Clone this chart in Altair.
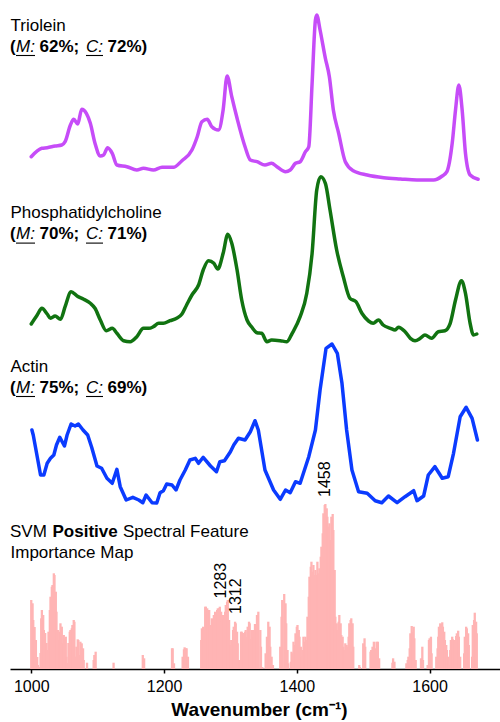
import altair as alt
import pandas as pd

FONT = "Liberation Sans, Arial, Helvetica, sans-serif"

# ---------------- data ----------------
tri_wn = [1000, 1016, 1024, 1036, 1046, 1051, 1059, 1064, 1070, 1076, 1083, 1089, 1096, 1104, 1109,
          1115, 1122, 1129, 1144, 1159, 1169, 1184, 1197, 1214, 1227, 1242, 1250, 1257, 1265, 1272,
          1282, 1289, 1295, 1302, 1310, 1322, 1330, 1340, 1352, 1362, 1370, 1383, 1390, 1398, 1405,
          1413, 1418, 1423, 1428, 1430, 1435, 1443, 1449, 1455, 1463, 1473, 1485, 1506, 1531, 1556,
          1581, 1606, 1619, 1626, 1634, 1639, 1644, 1649, 1654, 1661, 1673]
tri_int = [23.3, 31.7, 32.3, 34, 35, 38.3, 55, 60.7, 56, 70.7, 66.7, 56.7, 36.7, 24, 25,
           32.3, 26.7, 15, 13.3, 10, 11.7, 10, 12.7, 12.7, 19.3, 30, 43.3, 58.3, 60.7, 53.3,
           50, 70, 104, 83.3, 61.7, 33.3, 20, 18.3, 15, 16.7, 13.3, 8.3, 10, 16.7, 18.3,
           28.3, 33.3, 96.7, 160, 165, 150, 121.7, 103.3, 70, 46.7, 18.3, 9.3, 5, 2.3, 1,
           0, 0, 4, 8.3, 36.7, 70, 95, 70, 26.7, 5, 0.7]

pc_wn = [1000, 1009, 1016, 1024, 1029, 1036, 1044, 1051, 1060, 1069, 1079, 1089, 1096, 1104, 1113,
         1122, 1129, 1139, 1149, 1159, 1169, 1177, 1184, 1192, 1199, 1209, 1219, 1227, 1234, 1242,
         1252, 1259, 1267, 1275, 1281, 1289, 1296, 1302, 1310, 1317, 1325, 1332, 1340, 1347, 1355,
         1362, 1375, 1385, 1393, 1405, 1415, 1423, 1430, 1436, 1443, 1450, 1460, 1470, 1480, 1489,
         1498, 1508, 1515, 1523, 1530, 1541, 1548, 1553, 1563, 1571, 1578, 1586, 1593, 1603, 1613,
         1623, 1631, 1639, 1648, 1654, 1661, 1666, 1671]
pc_int = [18, 27, 33.7, 28, 23.7, 26, 22.7, 35.3, 50.3, 46, 42.7, 38.7, 33.7, 22, 11.3,
          13.7, 8.7, 1.3, 0.3, 5.3, 13.7, 13.7, 15.3, 18.7, 18.7, 21.3, 23.7, 28, 37, 47,
          57, 72, 81.3, 78.7, 73, 88.7, 107.7, 98.7, 72, 42, 22, 15, 9.3, 8.7, 0.3,
          2, 1.3, 0.3, 8.7, 25.3, 48.7, 88.7, 152, 165.3, 158.7, 132, 92, 65.3, 43.7, 40.3,
          28.7, 21, 18.7, 22, 17, 13.7, 12, 14.7, 10.3, 3.7, 1.3, 3.7, 7, 3.7, 10.3,
          11.3, 18.7, 42, 61.3, 48.7, 18.7, 7, 8]

act_wn = [1001, 1003, 1009, 1014, 1019, 1024, 1029, 1034, 1038, 1043, 1050, 1054, 1060, 1066, 1071,
          1078, 1085, 1091, 1099, 1106, 1114, 1122, 1129, 1134, 1143, 1153, 1162, 1168, 1173, 1182,
          1189, 1194, 1199, 1204, 1212, 1218, 1224, 1232, 1239, 1247, 1252, 1259, 1270, 1279, 1284,
          1291, 1300, 1305, 1312, 1322, 1330, 1337, 1342, 1352, 1365, 1375, 1383, 1390, 1398, 1405,
          1418, 1428, 1435, 1444, 1453, 1461, 1468, 1475, 1483, 1493, 1506, 1518, 1528, 1538, 1551,
          1563, 1576, 1581, 1591, 1598, 1608, 1619, 1628, 1636, 1646, 1655, 1664, 1672]
act_int = [73, 68, 46.3, 28, 28, 39.7, 44.7, 48, 58, 65.7, 57, 68, 79, 77, 79,
           73, 68, 55.7, 37, 34.7, 24.7, 19.7, 33.7, 16.3, 3, 5.7, 3, 0.3, 8, 0.3,
           0, 10.3, 12.3, 19, 18, 13, 23, 33, 43, 44.7, 39.7, 45.7, 37, 31.3, 41.3,
           42.3, 51.3, 58, 64.7, 63, 71.3, 82.3, 73, 33, 13, 3.7, 13, 10.3, 21.3, 19.7,
           46.3, 73, 113, 154.7, 159, 149.7, 119.7, 73, 33, 11.3, 9.7, 2.3, 0.3, 7, 0.3,
           6.3, 12.3, 2.3, 7, 28, 36.3, 24.7, 26.3, 49.7, 86.3, 95.7, 84.7, 63]

svm_wn = [1000, 1002, 1003, 1005, 1007, 1009, 1010, 1012, 1014, 1015, 1016, 1018, 1019, 1021, 1023,
          1024, 1026, 1028, 1029, 1031, 1032, 1034, 1035, 1037, 1038, 1040, 1041, 1043, 1044, 1046,
          1047, 1049, 1050, 1052, 1053, 1055, 1056, 1058, 1059, 1061, 1062, 1064, 1065, 1067, 1068,
          1070, 1071, 1073, 1074, 1076, 1078, 1079, 1084, 1094, 1095, 1097, 1124, 1168, 1170, 1212,
          1213, 1215, 1228, 1230, 1231, 1233, 1234, 1236, 1256, 1257, 1259, 1260, 1262, 1263, 1265,
          1266, 1268, 1269, 1271, 1272, 1274, 1275, 1277, 1278, 1280, 1281, 1283, 1284, 1286, 1287,
          1289, 1290, 1292, 1293, 1295, 1296, 1298, 1299, 1301, 1302, 1304, 1305, 1307, 1308, 1310,
          1311, 1313, 1314, 1316, 1317, 1319, 1320, 1322, 1323, 1325, 1326, 1328, 1329, 1331, 1332,
          1334, 1335, 1337, 1340, 1342, 1345, 1346, 1348, 1353, 1355, 1357, 1359, 1360, 1362, 1364,
          1375, 1377, 1378, 1381, 1383, 1384, 1386, 1387, 1391, 1392, 1394, 1395, 1397, 1398, 1400,
          1401, 1403, 1404, 1406, 1407, 1409, 1410, 1412, 1413, 1415, 1416, 1418, 1419, 1421, 1422,
          1424, 1425, 1427, 1428, 1430, 1431, 1433, 1434, 1436, 1437, 1439, 1440, 1442, 1443, 1445,
          1446, 1448, 1449, 1451, 1452, 1454, 1455, 1457, 1458, 1460, 1461, 1463, 1464, 1466, 1467,
          1469, 1470, 1472, 1473, 1475, 1476, 1478, 1479, 1481, 1482, 1484, 1485, 1494, 1495, 1500,
          1502, 1503, 1511, 1512, 1514, 1516, 1518, 1520, 1522, 1524, 1544, 1545, 1547, 1565, 1567,
          1568, 1570, 1571, 1573, 1574, 1576, 1577, 1579, 1587, 1589, 1590, 1597, 1599, 1600, 1602,
          1603, 1610, 1612, 1613, 1614, 1616, 1617, 1619, 1620, 1622, 1623, 1625, 1626, 1628, 1629,
          1631, 1632, 1634, 1635, 1637, 1638, 1640, 1641, 1643, 1644, 1646, 1652, 1653, 1655, 1656,
          1658, 1659, 1664, 1665, 1667, 1668, 1670, 1671]
svm_val = [69, 65.7, 49, 42, 29, 12, 4, 2, 16, 50.7, 59, 54, 39, 36, 26,
           19, 37.3, 59, 72.3, 82.3, 84, 95.7, 94, 77.3, 57.3, 39, 29, 37.3, 45.7, 42.3,
           25.7, 34, 30.7, 32.3, 12.3, 6, 26, 37.3, 39, 40.7, 44, 49, 47.3, 12.3, 22.3,
           29.7, 29, 14, 27.3, 25.7, 20.7, 9, 6.3, 9, 14, 17.3, 6.3, 14, 10.7, 20.7,
           20.7, 5.7, 12.3, 19.7, 21.7, 20.7, 20.7, 12.3, 29, 40.7, 42.3, 39, 62.3, 62.3, 60.7,
           59, 59, 44, 42.3, 50.7, 49, 54, 57.3, 55.7, 59, 60.7, 60.7, 62.3, 57.3, 47.3,
           54, 50.7, 57.3, 64, 67.3, 69, 49, 29, 24, 29, 39, 42.3, 47.3, 45.7, 37.3,
           25.7, 9, 9, 37.3, 37.3, 36, 35, 37.3, 39, 32, 42.3, 47.3, 45.7, 30, 39,
           39, 32, 45, 54, 57.3, 39, 22.3, 2, 15.7, 32.3, 47.3, 42.3, 22.3, 12.3, 4,
           22.3, 52.3, 69, 75, 65.7, 45.7, 19, 5.7, 7.3, 17.3, 15.7, 27.3, 24, 35.7, 42.3,
           44, 39, 32.3, 22.3, 12.3, 19, 32.3, 27.3, 32.3, 29, 52.3, 72.3, 92.3, 102.3, 107.3,
           97.3, 104, 94, 99, 94, 107.3, 95.7, 100.7, 112.3, 122.3, 135.7, 155.7, 164, 165, 160.7,
           152.3, 142.3, 145.7, 129, 152.3, 155, 139, 99, 52.3, 45.7, 39, 47.3, 54, 45.7, 34,
           32.3, 22.3, 19, 25.7, 24, 22.3, 32.3, 45.7, 49, 50.7, 45.7, 22.3, 4, 2, 25.7,
           30.7, 22.3, 17.3, 19, 22.3, 27.3, 20.7, 27.3, 27.3, 10.7, 6.3, 10.7, 7.3, 5.7, 9,
           12.3, 20.7, 35.7, 43, 37.3, 42.3, 30.7, 9, 10.7, 22.3, 9, 4, 29, 30.7, 32.3,
           15.7, 12.3, 20.7, 32.3, 42.3, 45.7, 45, 46.7, 42.3, 37.3, 29, 24, 19, 12.3, 4,
           19, 29, 32.3, 29.7, 29, 29, 33, 35.7, 38.3, 32.3, 12.3, 15.7, 32.3, 42.3, 40.7,
           35.7, 24, 12.3, 44, 49, 56.3, 47.3, 35.7]

x_ticks = [1000, 1200, 1400, 1600]
peak_labels = ["1458", "1283", "1312"]

names = ["Triolein", "Phosphatidylcholine", "Actin"]
m_acc = ["62%;", "70%;", "75%;"]
c_acc = ["72%)", "71%)", "69%)"]

# ---------------- layout / style constants ----------------
W, H = 490, 669
offsets = {"Triolein": 489, "Phosphatidylcholine": 327, "Actin": 166}
colors = {"Triolein": "#C64CF8", "Phosphatidylcholine": "#117311", "Actin": "#0B3BFF"}
interp = {"Triolein": "monotone", "Phosphatidylcholine": "monotone", "Actin": "linear"}
block_base = {"Triolein": 30.7, "Phosphatidylcholine": 218.3, "Actin": 371.7}
LINE_GAP = 21

xscale = alt.Scale(domain=[968, 1706], nice=False, zero=False, padding=0)
yscale = alt.Scale(domain=[0, H], nice=False, zero=False, padding=0)
xaxis = alt.Axis(values=x_ticks, title="Wavenumber (cm⁻¹)", grid=False,
                 domainColor="black", domainWidth=1.5, tickColor="black", tickWidth=1.5,
                 tickSize=4, labelFont=FONT, labelFontSize=16, labelColor="black",
                 labelBaseline="alphabetic", labelPadding=18, labelFlush=False,
                 titleFont=FONT, titleFontSize=19, titleFontWeight="bold", titleColor="black",
                 titleBaseline="alphabetic", titleY=46, titleX=249, format="d")

X = alt.X("wn:Q", scale=xscale, axis=xaxis)
Y = alt.Y("y:Q", scale=yscale, axis=None)

layers = []

svm_df = pd.DataFrame({"wn": svm_wn, "y": svm_val})
layers.append(alt.Chart(svm_df).mark_bar(size=2.3, color="#FFB4B4").encode(x=X, y=Y))

series = {"Triolein": (tri_wn, tri_int), "Phosphatidylcholine": (pc_wn, pc_int), "Actin": (act_wn, act_int)}
for name, (wn, val) in series.items():
    df = pd.DataFrame({"wn": wn, "val": val})
    df["y"] = df["val"] + offsets[name]
    layers.append(alt.Chart(df).mark_line(color=colors[name], strokeWidth=3.5,
                                          interpolate=interp[name], strokeJoin="round",
                                          strokeCap="round").encode(x=X, y=Y))

one = pd.DataFrame({"a": [1]})


def txt(s, x, y, bold=False, italic=False, size=17, angle=None, align="left", baseline="alphabetic"):
    kw = dict(text=s, font=FONT, fontSize=size, fontWeight="bold" if bold else "normal",
              fontStyle="italic" if italic else "normal", color="black", align=align,
              baseline=baseline)
    if angle is not None:
        kw["angle"] = angle
    return alt.Chart(one).mark_text(**kw).encode(x=alt.value(x), y=alt.value(y))


def uline(x1, x2, y):
    return alt.Chart(one).mark_rule(color="black", strokeWidth=1.1).encode(
        x=alt.value(x1), x2=alt.value(x2), y=alt.value(y))


for i, name in enumerate(names):
    b1 = block_base[name]
    b2 = b1 + LINE_GAP
    layers.append(txt(name, 0.5, b1))
    layers.append(txt("(", 0, b2, bold=True))
    layers.append(txt("M:", 6, b2, italic=True))
    layers.append(txt(m_acc[i], 29.5, b2, bold=True))
    layers.append(txt("C:", 76, b2, italic=True))
    layers.append(txt(c_acc[i], 97.5, b2, bold=True))
    layers.append(uline(6, 25, b2 + 3.8))
    layers.append(uline(76, 93, b2 + 3.8))

# SVM header
layers.append(txt("SVM", 0, 536.7))
layers.append(txt("Positive", 42.5, 536.7, bold=True))
layers.append(txt("Spectral Feature", 113, 536.7))
layers.append(txt("Importance Map", 0.5, 557.5))

# peak labels (rotated)
layers.append(txt(peak_labels[0], 315, 497, size=16, angle=270, baseline="middle"))
layers.append(txt(peak_labels[1], 210.5, 598.5, size=16, angle=270, baseline="middle"))
layers.append(txt(peak_labels[2], 225.5, 614, size=16, angle=270, baseline="middle"))

chart = alt.layer(*layers).properties(
    width=W, height=H,
    padding={"left": 10, "top": 0, "right": 0, "bottom": 53},
    autosize=alt.AutoSizeParams(type="none"),
    background="white",
).configure_view(stroke=None)

chart.save("out.html", embed_options={"renderer": "svg", "actions": False})
